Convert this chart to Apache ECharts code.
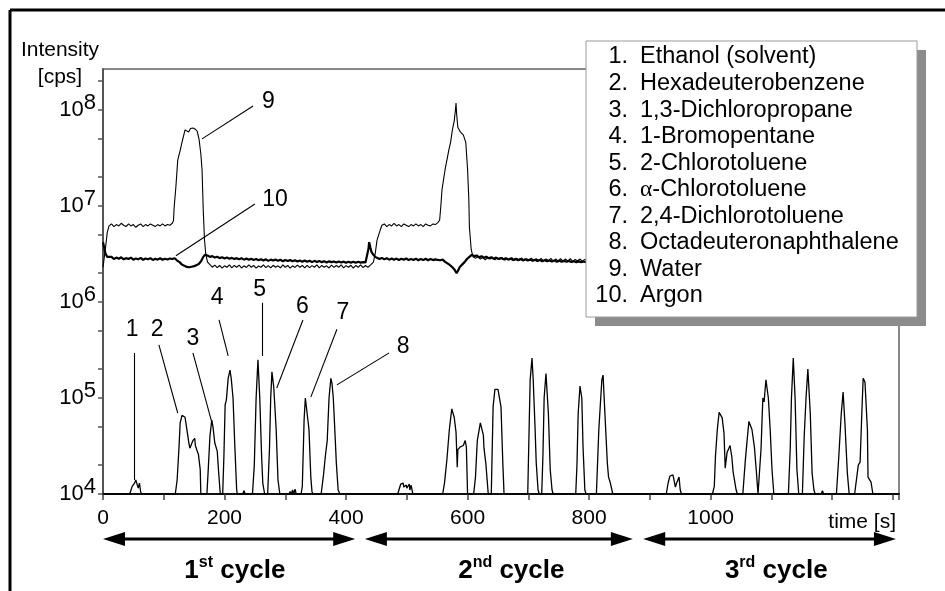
<!DOCTYPE html>
<html>
<head>
<meta charset="utf-8">
<script src="https://cdn.jsdelivr.net/npm/echarts@6/dist/echarts.min.js"></script>
<style>
  html, body { margin: 0; padding: 0; background: #fff; }
  #chart { width: 945px; height: 591px; }
</style>
</head>
<body>
<div id="chart"></div>
<script>
const FONT = '"Liberation Sans", Arial, Helvetica, sans-serif';

// Summed analyte signal of the three injection cycles: [time (s), intensity (cps)]
const analyteTrace = [
  [0,1e4],[44,1e4],
  // cycle 1
  [46,1.0e4],[48,1.2e4],[50,1.15e4],[52,1.3e4],[54,1.4e4],[56,1.35e4],[58,1.15e4],[60,1.3e4],[62,1.05e4],[64,1e4],
  [119,1e4],[122,1.4e4],[125,3.0e4],[127,5.5e4],[130,6.6e4],[132,6.9e4],[135,6.3e4],[138,4.7e4],[141,3.5e4],[143,3.0e4],[146,3.1e4],[148,3.6e4],[151,3.8e4],[152,3.2e4],[155,2.8e4],[157,2.6e4],[160,1.8e4],[161,1e4],
  [171,1e4],[173,1.7e4],[176,4.0e4],[179,5.9e4],[181,5.0e4],[184,3.4e4],[188,2.8e4],[190,1.8e4],[193,1e4],
  [197,1e4],[199,2.5e4],[201,8.5e4],[203,9.5e4],[206,1.6e5],[209,1.95e5],[211,1.6e5],[214,1.0e5],[217,3.1e4],[220,1.1e4],[221,1e4],
  [230,1e4],[232,1.08e4],[234,1e4],
  [246,1e4],[249,2.0e4],[252,1.0e5],[255,2.5e5],[258,1.0e5],[261,2.5e4],[263,1.3e4],[266,1e4],
  [271,1e4],[274,3.0e4],[276,1.0e5],[278,1.87e5],[281,1.3e5],[285,4.7e4],[288,1.4e4],[291,1e4],
  [306,1e4],[308,1.06e4],[310,1.0e4],[312,1.1e4],[314,1.0e4],[316,1.12e4],[318,1e4],
  [326,1e4],[328,1.2e4],[331,6.0e4],[333,1.0e5],[336,1.0e5],[339,4.7e4],[342,1.5e4],[344,1.05e4],[346,1e4],
  [359,1e4],[363,1.6e4],[366,2.5e4],[369,3.6e4],[372,1.0e5],[375,1.6e5],[377,1.4e5],[379,1.0e5],[382,4.0e4],[384,2.1e4],[387,1.1e4],[390,1e4],
  // cycle 2
  [485,1e4],[490,1.27e4],[494,1.3e4],[495,1.18e4],[499,1.24e4],[500,1.15e4],[504,1.27e4],[505,1.1e4],[507,1.24e4],[510,1e4],
  [559,1e4],[562,1.3e4],[566,2.3e4],[570,4.7e4],[574,7.7e4],[578,6.3e4],[581,4.4e4],[583,1.9e4],[584,2.9e4],[588,3.1e4],[593,3.2e4],[596,3.6e4],[598,3.1e4],[600,1e4],
  [610,1e4],[613,1.5e4],[616,3.6e4],[621,5.5e4],[626,4.1e4],[627,3.0e4],[630,2.1e4],[634,1e4],
  [639,1e4],[642,8.1e4],[645,1.23e5],[650,1.23e5],[655,8.1e4],[658,2.1e4],[660,1e4],
  [699,1e4],[701,4.0e4],[703,1.55e5],[706,2.6e5],[708,1.55e5],[711,5.0e4],[713,2.1e4],[716,1.1e4],[718,1e4],
  [722,1e4],[724,2.5e4],[726,1.0e5],[729,1.8e5],[733,6.9e4],[736,1.8e4],[739,1.1e4],[741,1e4],
  [778,1e4],[780,2.0e4],[782,6.9e4],[785,1.33e5],[788,1.0e5],[790,3.1e4],[793,1.1e4],[795,1e4],
  [812,1e4],[816,4.7e4],[821,1.55e5],[823,1.73e5],[826,6.9e4],[830,2.1e4],[832,1.5e4],[835,1.3e4],[839,1e4],
  // cycle 3
  [927,1e4],[930,1.3e4],[933,1.54e4],[938,1.58e4],[942,1.18e4],[944,1.3e4],[945,1.25e4],[948,1.5e4],[950,1.1e4],[952,1e4],
  [1003,1e4],[1006,1.2e4],[1008,2.5e4],[1011,4.7e4],[1014,7.1e4],[1019,6.2e4],[1022,4.3e4],[1024,1.86e4],[1027,2.7e4],[1032,3.2e4],[1035,2.4e4],[1037,1.7e4],[1040,1.65e4],[1042,1.1e4],[1044,1e4],
  [1053,1e4],[1057,2.2e4],[1060,3.6e4],[1063,5.7e4],[1068,4.7e4],[1072,3.1e4],[1075,1.8e4],[1078,1e4],
  [1080,1e4],[1083,3.0e4],[1085,6.9e4],[1086,1.0e5],[1088,9.1e4],[1091,1.55e5],[1095,1.0e5],[1098,4.7e4],[1101,1.8e4],[1104,1e4],
  [1128,1e4],[1131,3.0e4],[1133,1.0e5],[1136,2.6e5],[1139,1.0e5],[1142,1.8e4],[1145,1e4],
  [1151,1e4],[1154,4.0e4],[1157,1.0e5],[1160,2.0e5],[1164,6.9e4],[1167,1.65e4],[1170,1.1e4],[1172,1e4],
  [1182,1e4],[1184,1.08e4],[1186,1e4],
  [1207,1e4],[1211,2.5e4],[1215,6.9e4],[1218,1.15e5],[1221,5.5e4],[1225,1.65e4],[1228,1e4],
  [1237,1e4],[1243,2.0e4],[1246,2.15e4],[1249,7.5e4],[1251,1.6e5],[1254,1.47e5],[1258,4.7e4],[1259,1.5e4],[1264,1.33e4],[1267,1e4],
  [1310,1e4]
];

// Water signal (9)
const waterTrace = [
  [0,2.3e6],[2,2.4e6],[4,3.6e6],[7,5.3e6],[10,6.2e6],
  [14,6.5e6],[18,6.1e6],[22,6.4e6],[26,6.2e6],[30,6.6e6],[34,6.3e6],[38,6.1e6],[42,6.5e6],[46,6.2e6],[50,6.4e6],
  [54,6.0e6],[58,6.3e6],[62,6.5e6],[66,6.1e6],[70,6.4e6],[74,6.2e6],[78,6.5e6],[82,6.3e6],[86,6.1e6],[90,6.4e6],
  [94,6.2e6],[98,6.5e6],[102,6.2e6],[106,6.4e6],[110,6.3e6],[114,6.6e6],
  [116,7.0e6],[117,9.5e6],[120,1.6e7],[123,3.0e7],[127,3.8e7],[130,4.6e7],[133,5.5e7],[135,6.2e7],[138,6.3e7],[141,5.9e7],
  [144,6.4e7],[148,6.5e7],[152,6.3e7],[155,6.0e7],[158,5.0e7],[161,3.5e7],[163,2.4e7],[165,9.0e6],[167,4.5e6],[169,3.2e6],
  [172,2.6e6],[176,2.45e6],
  [180,2.3e6],[184,2.42e6],[188,2.28e6],[192,2.4e6],[196,2.25e6],[200,2.38e6],[204,2.3e6],[208,2.44e6],[212,2.27e6],[216,2.4e6],
  [220,2.3e6],[224,2.42e6],[228,2.26e6],[232,2.38e6],[236,2.29e6],[240,2.43e6],[244,2.3e6],[248,2.4e6],[252,2.25e6],[256,2.37e6],
  [260,2.3e6],[264,2.44e6],[268,2.28e6],[272,2.39e6],[276,2.26e6],[280,2.41e6],[284,2.3e6],[288,2.38e6],[292,2.27e6],[296,2.43e6],
  [300,2.3e6],[304,2.4e6],[308,2.25e6],[312,2.38e6],[316,2.29e6],[320,2.42e6],[324,2.3e6],[328,2.4e6],[332,2.26e6],[336,2.41e6],
  [340,2.28e6],[344,2.39e6],[348,2.3e6],[352,2.44e6],[356,2.27e6],[360,2.4e6],[364,2.3e6],[368,2.38e6],[372,2.26e6],[376,2.42e6],
  [380,2.29e6],[384,2.4e6],[388,2.3e6],[392,2.43e6],[396,2.27e6],[400,2.39e6],[404,2.3e6],[408,2.41e6],[412,2.25e6],[416,2.4e6],
  [420,2.3e6],[424,2.44e6],[428,2.28e6],[432,2.4e6],[436,2.3e6],[440,2.42e6],[443,2.35e6],
  [445,2.6e6],[448,3.2e6],[451,4.4e6],[455,5.3e6],[459,6.3e6],
  [463,6.5e6],[467,6.1e6],[471,6.4e6],[475,6.2e6],[479,6.6e6],[483,6.2e6],[487,6.4e6],[491,6.1e6],[495,6.5e6],[499,6.3e6],
  [503,6.1e6],[507,6.4e6],[511,6.2e6],[515,6.5e6],[519,6.2e6],[523,6.4e6],[527,6.1e6],[531,6.5e6],[535,6.3e6],[539,6.2e6],
  [543,6.5e6],[547,6.4e6],[551,6.7e6],
  [554,7.1e6],[556,1.0e7],[558,1.5e7],[560,1.8e7],[563,2.4e7],[566,3.0e7],[569,3.8e7],[572,4.6e7],[575,6.2e7],[578,7.7e7],
  [580,1.0e8],[581,1.18e8],[582,9.0e7],[584,6.6e7],[588,5.9e7],[593,5.5e7],[597,4.6e7],[600,2.4e7],[602,1.2e7],[603,6.0e6],
  [606,3.5e6],[609,2.95e6],
  [613,2.85e6],[617,2.95e6],[621,2.8e6],[625,2.9e6],[629,2.75e6],[633,2.88e6],[637,2.8e6],[641,2.92e6],[645,2.75e6],[649,2.86e6],
  [653,2.78e6],[657,2.9e6],[661,2.72e6],[665,2.85e6],[669,2.76e6],[673,2.9e6],[677,2.7e6],[681,2.84e6],[685,2.72e6],[689,2.88e6],
  [693,2.7e6],[697,2.83e6],[701,2.72e6],[705,2.86e6],[709,2.68e6],[713,2.82e6],[717,2.7e6],[721,2.85e6],[725,2.68e6],[729,2.8e6],
  [733,2.7e6],[737,2.84e6],[741,2.66e6],[745,2.8e6],[749,2.68e6],[753,2.82e6],[757,2.66e6],[761,2.8e6],[765,2.68e6],[769,2.82e6],
  [773,2.65e6],[777,2.78e6],[781,2.67e6],[785,2.8e6],[789,2.66e6],[793,2.78e6],[797,2.67e6],[801,2.78e6]
];

// Argon signal (10)
const argonTrace = [
  [0,4.2e6],[2,3.7e6],[4,3.2e6],[7,2.95e6],[10,2.85e6],[14,2.95e6],[18,2.8e6],[22,2.9e6],[26,2.82e6],[30,2.92e6],
  [34,2.78e6],[38,2.86e6],[42,2.8e6],[46,2.9e6],[50,2.76e6],[54,2.84e6],[58,2.78e6],[62,2.88e6],[66,2.75e6],[70,2.84e6],
  [74,2.78e6],[78,2.86e6],[82,2.74e6],[86,2.82e6],[90,2.76e6],[94,2.85e6],[98,2.75e6],[102,2.82e6],[106,2.77e6],[110,2.84e6],
  [114,2.8e6],[118,2.85e6],[122,2.7e6],[126,2.6e6],[130,2.45e6],[134,2.38e6],[138,2.32e6],[142,2.3e6],[146,2.33e6],[150,2.36e6],
  [154,2.42e6],[158,2.5e6],[162,2.7e6],[165,2.95e6],[168,3.1e6],[172,3.05e6],[176,2.95e6],[180,3.0e6],[184,2.9e6],[188,2.96e6],
  [192,2.86e6],[196,2.92e6],[200,2.84e6],[204,2.9e6],[208,2.82e6],[212,2.88e6],[216,2.8e6],[220,2.86e6],[224,2.78e6],[228,2.85e6],
  [232,2.76e6],[236,2.83e6],[240,2.75e6],[244,2.82e6],[248,2.74e6],[252,2.8e6],[256,2.72e6],[260,2.79e6],[264,2.7e6],[268,2.78e6],
  [272,2.68e6],[276,2.76e6],[280,2.7e6],[284,2.77e6],[288,2.68e6],[292,2.75e6],[296,2.66e6],[300,2.74e6],[304,2.67e6],[308,2.73e6],
  [312,2.65e6],[316,2.72e6],[320,2.64e6],[324,2.71e6],[328,2.63e6],[332,2.7e6],[336,2.62e6],[340,2.69e6],[344,2.6e6],[348,2.68e6],
  [352,2.61e6],[356,2.67e6],[360,2.6e6],[364,2.66e6],[368,2.58e6],[372,2.65e6],[376,2.6e6],[380,2.64e6],[384,2.57e6],[388,2.64e6],
  [392,2.58e6],[396,2.63e6],[400,2.56e6],[404,2.62e6],[408,2.57e6],[412,2.63e6],[416,2.56e6],[420,2.62e6],[424,2.57e6],[428,2.6e6],
  [432,2.58e6],[435,2.7e6],[437,3.6e6],[438,4.2e6],[440,3.7e6],[442,3.3e6],[445,3.1e6],[448,2.95e6],[451,2.9e6],[455,2.8e6],
  [459,2.88e6],[463,2.78e6],[467,2.86e6],[471,2.76e6],[475,2.84e6],[479,2.75e6],[483,2.83e6],[487,2.74e6],[491,2.82e6],[495,2.75e6],
  [499,2.84e6],[503,2.73e6],[507,2.81e6],[511,2.74e6],[515,2.83e6],[519,2.72e6],[523,2.8e6],[527,2.73e6],[531,2.82e6],[535,2.72e6],
  [539,2.8e6],[543,2.73e6],[547,2.78e6],[551,2.74e6],[555,2.72e6],[559,2.76e6],[563,2.62e6],[567,2.52e6],[571,2.42e6],[575,2.3e6],
  [579,2.15e6],[582,2.0e6],[584,2.1e6],[587,2.3e6],[591,2.45e6],[595,2.6e6],[599,2.8e6],[603,2.95e6],[607,3.1e6],[611,3.0e6],
  [615,3.05e6],[619,2.92e6],[623,3.0e6],[627,2.88e6],[631,2.96e6],[635,2.85e6],[639,2.92e6],[643,2.82e6],[647,2.9e6],[651,2.8e6],
  [655,2.88e6],[659,2.78e6],[663,2.86e6],[667,2.76e6],[671,2.84e6],[675,2.74e6],[679,2.82e6],[683,2.72e6],[687,2.8e6],[691,2.71e6],
  [695,2.78e6],[699,2.7e6],[703,2.76e6],[707,2.68e6],[711,2.75e6],[715,2.67e6],[719,2.74e6],[723,2.66e6],[727,2.72e6],[731,2.65e6],
  [735,2.71e6],[739,2.64e6],[743,2.7e6],[747,2.63e6],[751,2.69e6],[755,2.62e6],[759,2.68e6],[763,2.62e6],[767,2.67e6],[771,2.61e6],
  [775,2.66e6],[779,2.6e6],[783,2.65e6],[787,2.6e6],[791,2.64e6],[795,2.59e6],[799,2.63e6],[801,2.6e6]
];

// Axis ticks
const timeLabelValues = [0, 200, 400, 600, 800, 1000];
const intensityDecades = [1e4, 1e5, 1e6, 1e7, 1e8];
const intensityTicks = [1e4,2e4,5e4,1e5,2e5,5e5,1e6,2e6,5e6,1e7,2e7,5e7,1e8,2e8];

// Numbered call-outs: label position, leader start, leader end (time, cps)
const callouts = [
  { text: '1',  at: [48, 5.1e5],    from: [51, 2.95e5],  to: [51, 1.4e4] },
  { text: '2',  at: [89, 5.1e5],    from: [92, 3.57e5],  to: [123, 6.98e4] },
  { text: '3',  at: [148, 4.1e5],   from: [148, 2.95e5], to: [179, 5.6e4] },
  { text: '4',  at: [188, 1.1e6],   from: [191, 6.5e5],  to: [206, 2.74e5] },
  { text: '5',  at: [258, 1.33e6],  from: [262, 9.8e5],  to: [262, 2.74e5] },
  { text: '6',  at: [328, 8.9e5],   from: [329, 6.5e5],  to: [286, 1.27e5] },
  { text: '7',  at: [395, 7.7e5],   from: [385, 5.2e5],  to: [342, 1.02e5] },
  { text: '8',  at: [494, 3.4e5],   from: [471, 2.95e5], to: [385, 1.37e5] },
  { text: '9',  at: [272, 1.21e8],  from: [247, 1.10e8], to: [163, 5.0e7] },
  { text: '10', at: [283, 1.155e7], from: [250, 1.05e7], to: [120, 3.03e6] }
];

const compounds = [
  'Ethanol (solvent)', 'Hexadeuterobenzene', '1,3-Dichloropropane', '1-Bromopentane',
  '2-Chlorotoluene', 'α-Chlorotoluene', '2,4-Dichlorotoluene', 'Octadeuteronaphthalene',
  'Water', 'Argon'
];

// Injection cycles: arrow span and label centre (time, s)
const cycleSpans = [[0, 415], [431, 872], [889, 1305]];
const cycleLabelCentres = [217, 672, 1108];
const cycleOrdinals = [['1', 'st'], ['2', 'nd'], ['3', 'rd']];

const chart = echarts.init(document.getElementById('chart'), null, { renderer: 'canvas' });

const lineBase = { type: 'line', showSymbol: false, symbol: 'none', silent: true, animation: false };

chart.setOption({
  animation: false,
  textStyle: { fontFamily: FONT },
  grid: {
    left: 103, right: 46, top: 69, bottom: 97,
    show: true, borderColor: '#111', borderWidth: 1, backgroundColor: 'transparent'
  },
  xAxis: {
    type: 'value', min: 0, max: 1310, interval: 100,
    axisLine: { show: true, onZero: false, lineStyle: { color: '#111', width: 2 } },
    axisTick: { show: true, length: 6, lineStyle: { color: '#444', width: 1.5 } },
    axisLabel: {
      fontSize: 21, color: '#000', margin: 14, fontFamily: FONT,
      formatter: v => (timeLabelValues.indexOf(v) >= 0 ? String(v) : '')
    },
    splitLine: { show: false }
  },
  yAxis: {
    type: 'log', logBase: 10, min: 1e4, max: 2.67e8,
    axisLine: { show: true, lineStyle: { color: '#555', width: 2 } },
    axisTick: { show: true, length: 5, customValues: intensityTicks, lineStyle: { color: '#555', width: 1.5 } },
    axisLabel: {
      customValues: intensityDecades, margin: 7, color: '#000',
      formatter: v => '{b|10}{e|' + Math.round(Math.log10(v)) + '}',
      rich: {
        b: { fontSize: 22, lineHeight: 36, verticalAlign: 'middle', fontFamily: FONT, color: '#000' },
        e: { fontSize: 22, lineHeight: 22, verticalAlign: 'top', fontFamily: FONT, color: '#000' }
      }
    },
    splitLine: { show: false },
    minorTick: { show: false }
  },
  series: [
    Object.assign({}, lineBase, {
      name: 'Water', data: waterTrace, z: 3,
      lineStyle: { color: '#000', width: 1.1 }
    }),
    Object.assign({}, lineBase, {
      name: 'Argon', data: argonTrace, z: 4,
      lineStyle: { color: '#000', width: 2.2 }
    }),
    Object.assign({}, lineBase, {
      name: 'Analytes', data: analyteTrace, z: 5,
      lineStyle: { color: '#000', width: 1.3 },
      markLine: {
        silent: true, animation: false, symbol: ['none', 'none'],
        lineStyle: { color: '#000', width: 1.1, type: 'solid' },
        label: { show: false },
        emphasis: { disabled: true },
        data: callouts.map(c => [{ coord: c.from }, { coord: c.to }])
      },
      markPoint: {
        silent: true, animation: false, symbol: 'circle', symbolSize: 0,
        itemStyle: { color: 'transparent' },
        label: { show: true, position: 'inside', formatter: '{b}', fontSize: 23, color: '#000', fontFamily: FONT },
        emphasis: { disabled: true },
        data: callouts.map(c => ({ name: c.text, coord: c.at }))
      }
    })
  ]
});

// Decorations laid out around the plot area
function buildGraphics() {
  const els = [];
  const xPx = t => chart.convertToPixel({ xAxisIndex: 0 }, t);

  // frame (top and left edges)
  els.push({ type: 'line', z: 50, shape: { x1: 10, y1: 10, x2: 945, y2: 10 }, style: { stroke: '#000', lineWidth: 3 } });
  els.push({ type: 'line', z: 50, shape: { x1: 10, y1: 10, x2: 10, y2: 591 }, style: { stroke: '#000', lineWidth: 3 } });

  // y axis title
  els.push({ type: 'text', z: 50, x: 60, y: 50, style: { text: 'Intensity', font: '21px ' + FONT, fill: '#000', align: 'center', verticalAlign: 'middle' } });
  els.push({ type: 'text', z: 50, x: 60, y: 77, style: { text: '[cps]', font: '21px ' + FONT, fill: '#000', align: 'center', verticalAlign: 'middle' } });

  // x axis title
  els.push({ type: 'text', z: 50, x: 896, y: 522, style: { text: 'time [s]', font: '21px ' + FONT, fill: '#000', align: 'right', verticalAlign: 'middle' } });

  // cycle arrows
  const ay = 539, head = 22, half = 7;
  cycleSpans.forEach((span, i) => {
    const x1 = xPx(span[0]), x2 = xPx(span[1]);
    els.push({ type: 'line', z: 50, shape: { x1: x1 + head - 2, y1: ay, x2: x2 - head + 2, y2: ay }, style: { stroke: '#000', lineWidth: 3 } });
    els.push({ type: 'polygon', z: 50, shape: { points: [[x1, ay], [x1 + head, ay - half], [x1 + head, ay + half]] }, style: { fill: '#000' } });
    els.push({ type: 'polygon', z: 50, shape: { points: [[x2, ay], [x2 - head, ay - half], [x2 - head, ay + half]] }, style: { fill: '#000' } });
    const ord = cycleOrdinals[i];
    els.push({
      type: 'text', z: 50, x: xPx(cycleLabelCentres[i]), y: 567,
      style: {
        text: '{n|' + ord[0] + '}{s|' + ord[1] + '}{n| cycle}',
        align: 'center', verticalAlign: 'middle',
        rich: {
          n: { fontSize: 26, fontWeight: 'bold', fontFamily: FONT, fill: '#000', lineHeight: 34, verticalAlign: 'bottom' },
          s: { fontSize: 16, fontWeight: 'bold', fontFamily: FONT, fill: '#000', lineHeight: 16, padding: [0, 0, 13, 0], verticalAlign: 'bottom' }
        }
      }
    });
  });

  // compound key box with drop shadow
  const bx = 586, by = 41, bw = 331, bh = 276;
  els.push({ type: 'rect', z: 60, shape: { x: bx + 9, y: by + 9, width: bw, height: bh }, style: { fill: '#8c8c8c' } });
  els.push({ type: 'rect', z: 61, shape: { x: bx, y: by, width: bw, height: bh }, style: { fill: '#fff', stroke: '#9a9a9a', lineWidth: 1 } });
  const fs = 23.5, lineGap = 26.55, y0 = 57;
  compounds.forEach((name, i) => {
    const y = y0 + i * lineGap;
    els.push({ type: 'text', z: 62, x: 628, y: y, style: { text: (i + 1) + '.', font: fs + 'px ' + FONT, fill: '#000', align: 'right', verticalAlign: 'middle' } });
    const isGreek = name.charAt(0) === 'α';
    els.push({
      type: 'text', z: 62, x: 640, y: y,
      style: isGreek ? {
        text: '{g|α}{t|' + name.slice(1) + '}', align: 'left', verticalAlign: 'middle',
        rich: {
          g: { fontSize: fs, fontFamily: '"Liberation Serif", serif', fill: '#000' },
          t: { fontSize: fs, fontFamily: FONT, fill: '#000' }
        }
      } : { text: name, font: fs + 'px ' + FONT, fill: '#000', align: 'left', verticalAlign: 'middle' }
    });
  });
  return els;
}

chart.setOption({ graphic: { elements: buildGraphics() } });
</script>
</body>
</html>
